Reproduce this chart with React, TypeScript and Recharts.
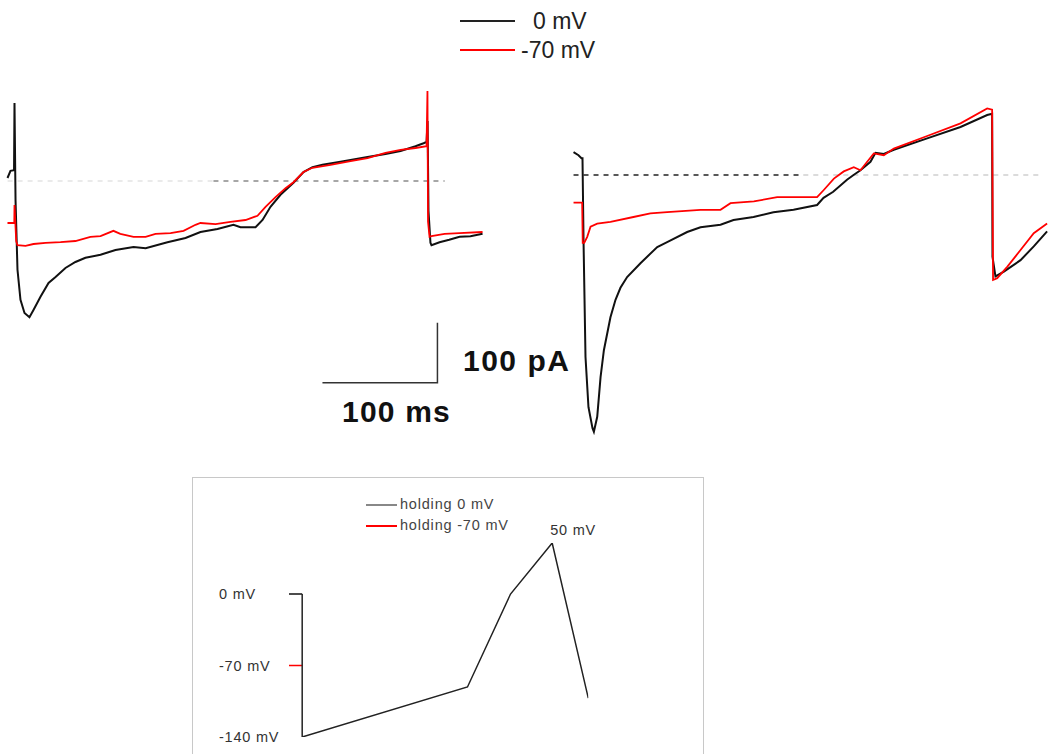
import React from 'react';
import { LineChart, Line, XAxis, YAxis } from 'recharts';

// current traces, [time (ms) from step onset, current (pA)]
const LEFT_BLACK: [number, number][] = [
  [-6.1, 5], [-3.5, 17], [-0.4, 18], [0, 130], [0.9, -32], [2.6, -148], [5.2, -198], [8.7, -220],
  [13, -227], [16.5, -215], [22.6, -193], [29.6, -170], [35.7, -160], [44.3, -145], [53, -135],
  [61.7, -128], [74.8, -123], [87.8, -115], [103.5, -110], [114, -112], [133, -102], [148.7, -95],
  [161.7, -85], [176.5, -80], [190.4, -73], [196.5, -77], [209.6, -77], [215.7, -65], [222.6, -43],
  [231.3, -23], [242.6, -3], [251.3, 15], [259.1, 23], [267.8, 27], [283.5, 32], [307, 40],
  [322.6, 45], [335.7, 50], [348.7, 58], [355.7, 63], [358.3, 65], [359.2, 100], [360, -50],
  [361.7, -103], [362.6, -107], [369.6, -102], [378, -98], [387, -93], [396.5, -92], [407, -88],
];

const LEFT_RED: [number, number][] = [
  [-6.1, -70], [-0.2, -70], [0, -40], [1.5, -100], [2.6, -107], [9.6, -108], [16.5, -105],
  [27, -103], [40, -102], [53, -100], [66, -93], [74.8, -92], [86, -83], [92, -88], [103.5, -93],
  [114, -93], [122.6, -88], [135.7, -87], [147, -83], [157.4, -73], [161.7, -70], [174.8, -72],
  [187.8, -68], [200.9, -65], [211.3, -58], [218.3, -43], [227, -27], [235.7, -12], [242.6, -2],
  [251.3, 15], [259, 22], [274.8, 27], [292.2, 33], [307, 38], [322.6, 47], [335.7, 52],
  [348.7, 55], [358.3, 58], [359.1, 150], [359.6, -68], [360.9, -93], [362.6, -92], [374, -88],
  [387, -87], [407, -85],
];

const RIGHT_BLACK: [number, number][] = [
  [-7.8, 38], [-3.5, 33], [-0.9, 28], [0, 28], [0.9, -110], [2.6, -303], [5.2, -387], [8.7, -422],
  [9.9, -428], [12.8, -403], [15.7, -337], [18.6, -292], [24.3, -237], [28.7, -208], [33, -188],
  [38.8, -170], [50.4, -147], [65, -120], [73.6, -112], [91, -95], [102.6, -87], [120, -83],
  [131.3, -75], [148.7, -70], [166, -62], [183.5, -58], [204, -50], [209.6, -38], [218, -28],
  [230, -8], [235.7, 0], [241.7, 8], [250.4, 22], [254.8, 37], [262, 35], [270.7, 42],
  [299.7, 61], [328.7, 80], [351.9, 100], [356.2, 102], [356.5, -136], [359.1, -169],
  [366.4, -161], [380.9, -142], [392.4, -119], [404, -94],
];

const RIGHT_RED: [number, number][] = [
  [-7.8, -46], [-0.3, -46], [0.2, -113], [1.5, -113], [4.1, -103], [7, -86], [12.8, -81],
  [24.3, -78], [44.3, -70], [59, -64], [73.6, -62], [102.6, -58], [120, -58], [128.7, -47],
  [149, -44], [169.3, -37], [204, -37], [209.8, -25], [218.6, -6], [227.2, 6], [235.9, 13],
  [241.7, 8], [253.3, 36], [262, 33], [270.7, 44], [299.7, 65], [328.7, 86], [351.9, 111],
  [356.2, 109], [357, -175], [360.6, -172], [369.3, -153], [380.9, -125], [392.4, -97], [404, -81],
];

// zero-current baselines [start, end] in ms
const LEFT_BASE_FAINT = [-6, 173];
const LEFT_BASE_DARK = [173, 374];
const RIGHT_BASE_DARK = [-7.8, 192];
const RIGHT_BASE_FAINT = [192, 398];

// scale bar: 100 ms x 100 pA
const SCALE_BAR: [number, number][] = [[0, 0], [100, 0], [100, 100]];

// voltage protocol, [time (ms), mV]
const PROTOCOL: [number, number][] = [[0, 0], [0, -140], [238, -91], [300, 0], [360, 50], [412, -102]];
const HOLD_0: [number, number][] = [[-19, 0], [0, 0]];
const HOLD_70: [number, number][] = [[-19, -70], [0, -70]];
const PROTOCOL_TICKS = [0, -70, -140];

const PX_PER_MS = 1.15;
const PX_PER_PA = 0.6;
const M = 4;
const FONT = '"Liberation Sans", Arial, sans-serif';

const pts = (pairs: [number, number][]) => pairs.map(([t, v]) => ({ t, v }));
const base = ([a, b]: number[]) => [{ t: a, v: 0 }, { t: b, v: 0 }];

function place(xDomain: number[], yDomain: number[], x0: number, y0: number, sx: number, sy: number) {
  // x0/y0: pixel position of t=0 / v=0
  return {
    left: x0 + xDomain[0] * sx - M,
    top: y0 - yDomain[1] * sy - M,
    width: (xDomain[1] - xDomain[0]) * sx + 2 * M,
    height: (yDomain[1] - yDomain[0]) * sy + 2 * M,
  };
}

interface TraceProps {
  xDomain: number[];
  yDomain: number[];
  x0: number;
  y0: number;
  black: [number, number][];
  red: [number, number][];
  baseA: number[];
  baseAColor: string;
  baseB: number[];
  baseBColor: string;
}

function TracePanel({ xDomain, yDomain, x0, y0, black, red, baseA, baseAColor, baseB, baseBColor }: TraceProps) {
  const box = place(xDomain, yDomain, x0, y0, PX_PER_MS, PX_PER_PA);
  return (
    <div style={{ position: 'absolute', left: box.left, top: box.top }}>
      <LineChart width={box.width} height={box.height} margin={{ top: M, right: M, bottom: M, left: M }}>
        <XAxis type="number" dataKey="t" domain={xDomain} hide allowDataOverflow />
        <YAxis type="number" dataKey="v" domain={yDomain} hide allowDataOverflow />
        <Line data={base(baseA)} dataKey="v" stroke={baseAColor} strokeWidth={1.5} strokeDasharray="5 5" dot={false} isAnimationActive={false} />
        <Line data={base(baseB)} dataKey="v" stroke={baseBColor} strokeWidth={1.5} strokeDasharray="5 5" dot={false} isAnimationActive={false} />
        <Line data={pts(black)} dataKey="v" type="linear" stroke="#111" strokeWidth={2} dot={false} isAnimationActive={false} />
        <Line data={pts(red)} dataKey="v" type="linear" stroke="#f00" strokeWidth={1.8} dot={false} isAnimationActive={false} />
      </LineChart>
    </div>
  );
}

function ScaleBar() {
  const xd = [-3, 103];
  const yd = [-3, 103];
  const box = place(xd, yd, 322, 383, PX_PER_MS, PX_PER_PA);
  return (
    <div style={{ position: 'absolute', left: box.left, top: box.top }}>
      <LineChart width={box.width} height={box.height} margin={{ top: M, right: M, bottom: M, left: M }}>
        <XAxis type="number" dataKey="t" domain={xd} hide allowDataOverflow />
        <YAxis type="number" dataKey="v" domain={yd} hide allowDataOverflow />
        <Line data={pts(SCALE_BAR)} dataKey="v" stroke="#333" strokeWidth={1.5} dot={false} isAnimationActive={false} />
      </LineChart>
    </div>
  );
}

function ProtocolTick({ x, y, payload }: any) {
  return (
    <text x={x - 62} y={y} dy={5} textAnchor="start" fontSize={14.5} letterSpacing={0.8} fill="#333" fontFamily={FONT}>
      {`${payload.value} mV`}
    </text>
  );
}

function PeakLabel(props: any) {
  if (props.index !== 4) return null;
  return (
    <text x={props.x - 2} y={props.y - 8} fontSize={14.5} letterSpacing={0.8} fill="#333" fontFamily={FONT}>
      50 mV
    </text>
  );
}

function Protocol() {
  const xd = [-19, 412];
  const yd = [-140, 50];
  const sx = 250 / 360;
  const sy = 194 / 190;
  const YW = 70;
  const plotLeft = 302 + xd[0] * sx;
  const plotTop = 737 - (yd[1] - yd[0]) * sy;
  const w = (xd[1] - xd[0]) * sx;
  const h = (yd[1] - yd[0]) * sy;
  const mt = 28;
  const mb = 12;
  return (
    <div style={{ position: 'absolute', left: plotLeft - YW - M, top: plotTop - mt }}>
      <LineChart width={w + YW + 2 * M + 30} height={h + mt + mb} margin={{ top: mt, right: M + 30, bottom: mb, left: M }}>
        <XAxis type="number" dataKey="t" domain={xd} hide allowDataOverflow />
        <YAxis
          type="number"
          dataKey="v"
          domain={yd}
          ticks={PROTOCOL_TICKS}
          width={YW}
          axisLine={false}
          tickLine={false}
          tick={<ProtocolTick />}
          allowDataOverflow
        />
        <Line data={pts(HOLD_0)} dataKey="v" stroke="#111" strokeWidth={1.5} dot={false} isAnimationActive={false} />
        <Line data={pts(HOLD_70)} dataKey="v" stroke="#f00" strokeWidth={1.5} dot={false} isAnimationActive={false} />
        <Line
          data={pts(PROTOCOL)}
          dataKey="v"
          stroke="#222"
          strokeWidth={1.5}
          dot={false}
          label={<PeakLabel />}
          isAnimationActive={false}
        />
      </LineChart>
    </div>
  );
}

const abs = (left: number, top: number, extra: React.CSSProperties = {}): React.CSSProperties => ({
  position: 'absolute',
  left,
  top,
  ...extra,
});

export default function App() {
  return (
    <div style={{ position: 'absolute', left: 0, top: 0, width: 1048, height: 754, overflow: 'hidden', background: '#fff', fontFamily: FONT }}>
      {/* top legend */}
      <div style={abs(460, 20, { width: 55, height: 2, background: '#222' })} />
      <div style={abs(533, 7, { fontSize: 23, color: '#222', lineHeight: '28px' })}>0 mV</div>
      <div style={abs(460, 49, { width: 55, height: 2, background: '#f00' })} />
      <div style={abs(521, 36, { fontSize: 23, color: '#222', lineHeight: '28px' })}>-70 mV</div>

      <TracePanel
        xDomain={[-10, 410]}
        yDomain={[-260, 160]}
        x0={14}
        y0={181}
        black={LEFT_BLACK}
        red={LEFT_RED}
        baseA={LEFT_BASE_FAINT}
        baseAColor="#e4e4e4"
        baseB={LEFT_BASE_DARK}
        baseBColor="#8a8a8a"
      />
      <TracePanel
        xDomain={[-10, 405]}
        yDomain={[-450, 160]}
        x0={582}
        y0={175}
        black={RIGHT_BLACK}
        red={RIGHT_RED}
        baseA={RIGHT_BASE_DARK}
        baseAColor="#222"
        baseB={RIGHT_BASE_FAINT}
        baseBColor="#cfcfcf"
      />

      <ScaleBar />
      <div style={abs(463, 343, { fontSize: 30, fontWeight: 'bold', color: '#111', lineHeight: '36px', letterSpacing: 1.5 })}>100 pA</div>
      <div style={abs(342, 394, { fontSize: 30, fontWeight: 'bold', color: '#111', lineHeight: '36px', letterSpacing: 1.2 })}>100 ms</div>

      {/* protocol inset */}
      <div style={abs(192, 477, { width: 512, height: 320, border: '1.5px solid #c8c8c8', boxSizing: 'border-box' })} />
      <div style={abs(366, 504, { width: 31, height: 1.5, background: '#888' })} />
      <div style={abs(400, 495, { fontSize: 14.5, color: '#444', lineHeight: '18px', letterSpacing: 0.8 })}>holding 0 mV</div>
      <div style={abs(366, 525, { width: 31, height: 2, background: '#f00' })} />
      <div style={abs(400, 516, { fontSize: 14.5, color: '#444', lineHeight: '18px', letterSpacing: 0.8 })}>holding -70 mV</div>
      <Protocol />
    </div>
  );
}
